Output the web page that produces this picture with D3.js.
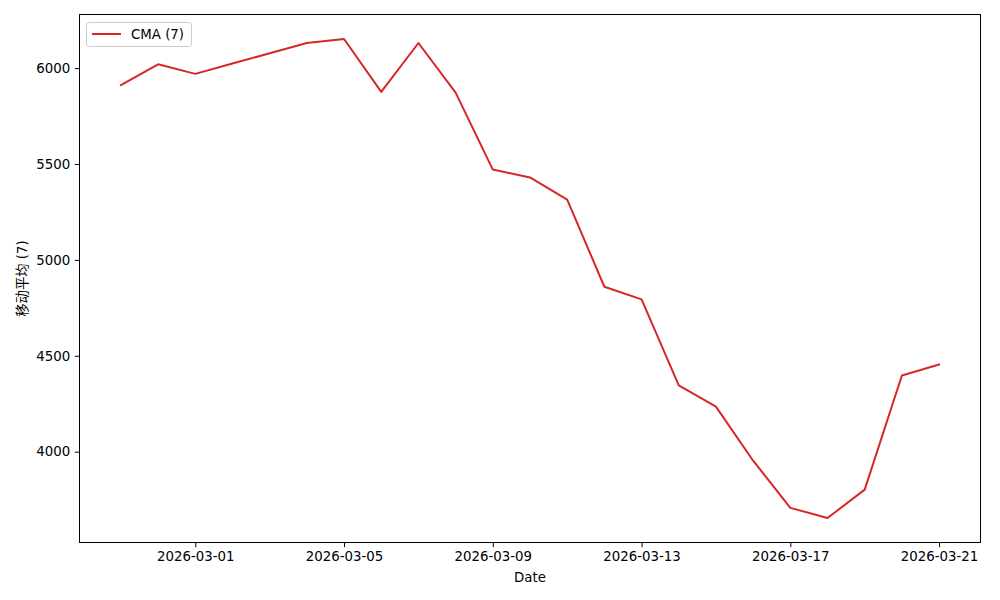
<!DOCTYPE html>
<html>
<head>
<meta charset="utf-8">
<script src="https://cdn.jsdelivr.net/npm/d3@7"></script>
<style>
  body { margin: 0; background: #fff; }
  svg text { font-family: "DejaVu Sans", sans-serif; }
</style>
</head>
<body>
<svg id="chart" width="1000" height="600"></svg>
<script>
const dates = ["2026-02-27","2026-02-28","2026-03-01","2026-03-02","2026-03-03","2026-03-04","2026-03-05","2026-03-06","2026-03-07","2026-03-08","2026-03-09","2026-03-10","2026-03-11","2026-03-12","2026-03-13","2026-03-14","2026-03-15","2026-03-16","2026-03-17","2026-03-18","2026-03-19","2026-03-20","2026-03-21"];
const cmaValues = [5911,6020,5970,6024,6077,6131,6152,5876,6131,5872,5471,5430,5314,4860,4794,4346,4235,3953,3707,3654,3802,4397,4454];
const xTickLabels = ["2026-03-01","2026-03-05","2026-03-09","2026-03-13","2026-03-17","2026-03-21"];
const yTickValues = [4000,4500,5000,5500,6000];
const seriesName = "CMA (7)";
const xLabel = "Date";
const yLabel = "移动平均 (7)";

const parse = d3.utcParse("%Y-%m-%d");
const fmt = d3.utcFormat("%Y-%m-%d");
const data = dates.map((d, i) => ({ date: parse(d), value: cmaValues[i] }));

const svg = d3.select("#chart");
const L = 80, R = 980, T = 15, B = 542;

const xExt = d3.extent(data, d => d.date);
const xSpan = xExt[1] - xExt[0];
const x = d3.scaleUtc()
  .domain([new Date(+xExt[0] - 0.05 * xSpan), new Date(+xExt[1] + 0.05 * xSpan)])
  .range([L, R]);

const yExt = d3.extent(data, d => d.value);
const ySpan = yExt[1] - yExt[0];
const y = d3.scaleLinear()
  .domain([yExt[0] - 0.05 * ySpan, yExt[1] + 0.05 * ySpan])
  .range([B, T]);

const xAxis = d3.axisBottom(x)
  .tickValues(xTickLabels.map(parse))
  .tickFormat(fmt)
  .tickSizeInner(4.67).tickSizeOuter(0).tickPadding(4.67);
const yAxis = d3.axisLeft(y)
  .tickValues(yTickValues)
  .tickFormat(d3.format("d"))
  .tickSizeInner(4.67).tickSizeOuter(0).tickPadding(4.67);

const gx = svg.append("g").attr("transform", `translate(0,${B + 0.5})`).call(xAxis);
const gy = svg.append("g").attr("transform", `translate(${L - 0.5},0)`).call(yAxis);
[gx, gy].forEach(g => {
  g.select(".domain").remove();
  g.selectAll(".tick line").attr("stroke", "#000").attr("stroke-width", 1);
  g.selectAll(".tick text").attr("fill", "#000").style("font-size", "13.33px")
    .style("font-family", "'DejaVu Sans', sans-serif");
});

const line = d3.line().x(d => x(d.date)).y(d => y(d.value));
svg.append("path").datum(data)
  .attr("d", line)
  .attr("fill", "none")
  .attr("stroke", "#d62728")
  .attr("stroke-width", 2)
  .attr("stroke-linejoin", "round")
  .attr("stroke-linecap", "square");

svg.append("rect")
  .attr("x", L - 0.5).attr("y", T - 0.5).attr("width", R - L + 1).attr("height", B - T + 1)
  .attr("fill", "none").attr("stroke", "#000").attr("stroke-width", 1);

svg.append("text")
  .attr("x", (L + R) / 2).attr("y", 582)
  .attr("text-anchor", "middle")
  .style("font-size", "13.33px")
  .text(xLabel);
svg.append("text")
  .attr("transform", `translate(27,${(T + B) / 2}) rotate(-90)`)
  .attr("text-anchor", "middle")
  .style("font-size", "13.33px")
  .style("font-family", "'DejaVu Sans', 'Noto Sans CJK SC', sans-serif")
  .text(yLabel);

const lg = svg.append("g");
lg.append("rect")
  .attr("x", 86.5).attr("y", 22.5).attr("width", 105).attr("height", 24)
  .attr("rx", 3).attr("fill", "#fff").attr("fill-opacity", 0.8)
  .attr("stroke", "#ccc").attr("stroke-width", 1);
lg.append("line")
  .attr("x1", 92).attr("x2", 121).attr("y1", 34).attr("y2", 34)
  .attr("stroke", "#d62728").attr("stroke-width", 2);
lg.append("text")
  .attr("x", 131).attr("y", 39)
  .style("font-size", "13.33px")
  .text(seriesName);
</script>
</body>
</html>
